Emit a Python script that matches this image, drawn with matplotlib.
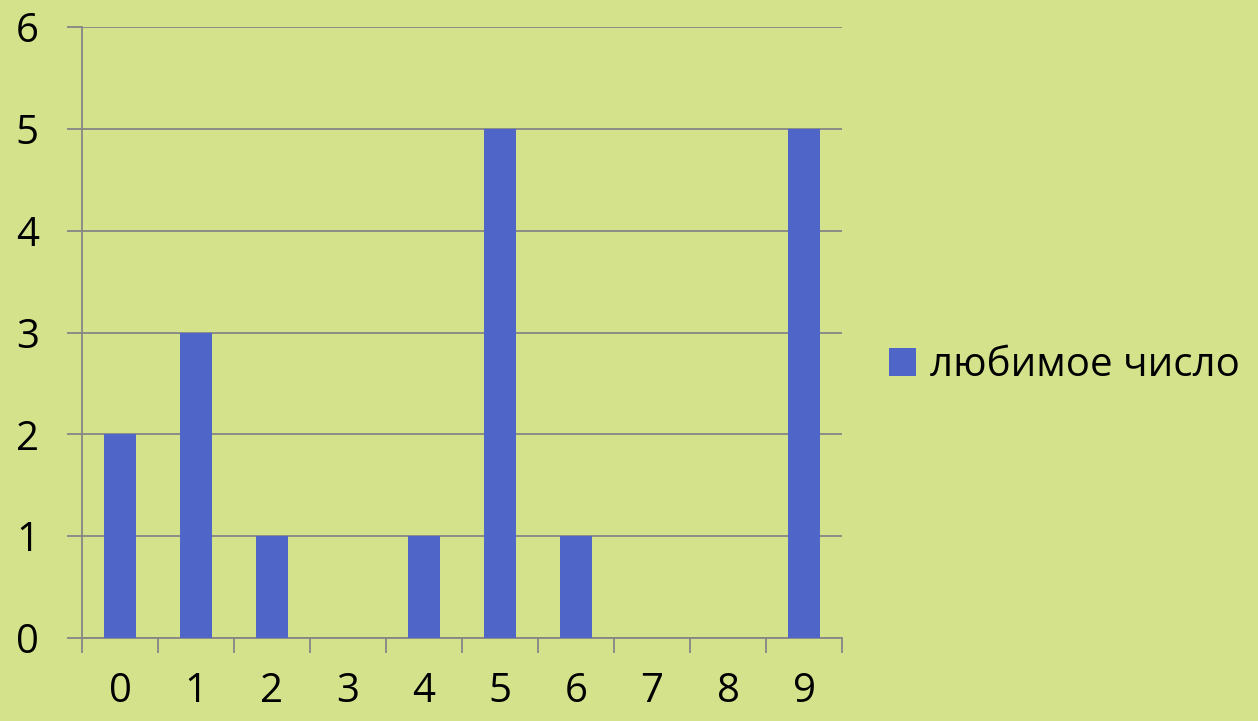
import matplotlib
matplotlib.use("Agg")
from matplotlib import pyplot as plt
from matplotlib.patches import Patch

# data
categories = ["0", "1", "2", "3", "4", "5", "6", "7", "8", "9"]
counts = [2, 3, 1, 0, 1, 5, 1, 0, 0, 5]
series_name = "любимое число"

BG = "#d4e28c"
BAR = "#4f66c8"
GRID = "#868686"

plt.rcParams['font.family'] = ['Open Sans', 'DejaVu Sans']

fig = plt.figure(figsize=(12.58, 7.21), dpi=100, facecolor=BG)
ax = fig.add_axes([82 / 1258, 83 / 721, 760 / 1258, 611 / 721])
ax.set_facecolor(BG)

x = list(range(len(categories)))
ax.bar(x, counts, width=0.41, color=BAR, zorder=3)

ax.set_xlim(-0.5, len(categories) - 0.5)
ax.set_ylim(0, 6)
ax.set_yticks(range(0, 7))
ax.set_xticks(x)
ax.set_xticklabels(categories)
ax.set_xticks([i - 0.5 for i in range(len(categories) + 1)], minor=True)

ax.tick_params(axis="x", which="major", length=0, pad=24, labelsize=29)
ax.tick_params(axis="x", which="minor", length=11, width=1.3, color=GRID, direction="out")
ax.tick_params(axis="y", length=11, width=1.3, color=GRID, pad=20, labelsize=29)

for s in ["top", "right"]:
    ax.spines[s].set_visible(False)
for s in ["left", "bottom"]:
    ax.spines[s].set_color(GRID)
    ax.spines[s].set_linewidth(1.3)

ax.yaxis.grid(True, color=GRID, linewidth=1.3, zorder=0)
ax.set_axisbelow(True)

handle = Patch(facecolor=BAR, edgecolor="none")
fig.legend([handle], [series_name], loc="center left",
           bbox_to_anchor=(889 / 1258, 1 - 366 / 721), frameon=False,
           fontsize=29, handlelength=0.68, handleheight=0.68, handletextpad=0.35,
           borderpad=0, borderaxespad=0)

fig.savefig("out.png", dpi=100, facecolor=BG)
